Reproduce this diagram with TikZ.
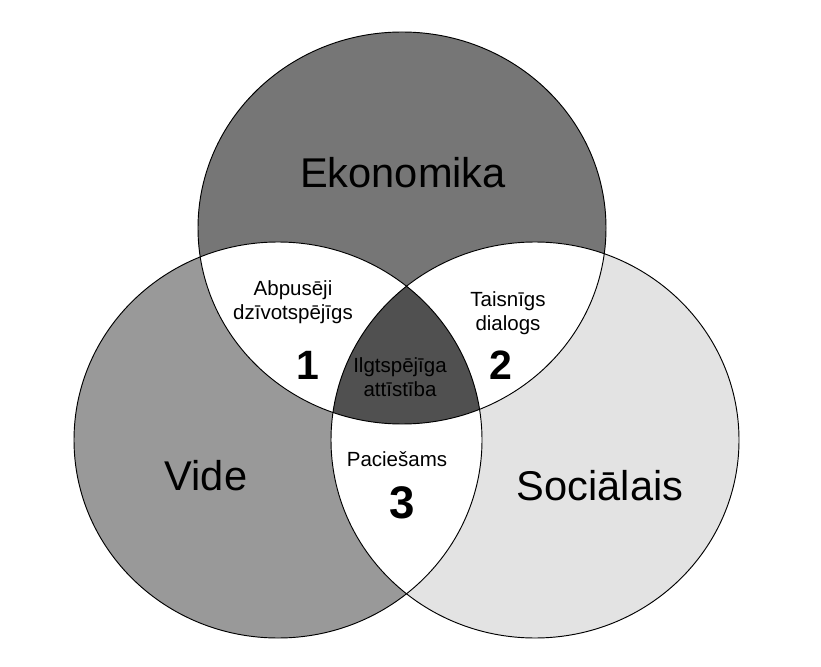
\documentclass[tikz,border=0pt]{standalone}
\usepackage{fontspec}
\setmainfont{Liberation Sans}
\usepackage{xcolor}
\definecolor{eko-gray}{RGB}{118,118,118}
\definecolor{vide-gray}{RGB}{153,153,153}
\definecolor{soc-gray}{RGB}{227,227,227}
\definecolor{core-gray}{RGB}{80,80,80}

\def\ekoset{(402,438) ellipse [x radius=204, y radius=196]}
\def\videset{(278,226) ellipse [x radius=204, y radius=198]}
\def\socset{(535,226) ellipse [x radius=204, y radius=198]}

\begin{document}
\begin{tikzpicture}[x=0.03cm, y=0.03cm,
  big/.style={font=\fontsize{35.5}{40}\selectfont, anchor=base},
  small/.style={font=\fontsize{17.5}{20.8}\selectfont, align=center},
  num/.style={font=\fontsize{35}{40}\selectfont\bfseries},
  rim/.style={draw=black, line width=0.8pt},
]
  \fill[white] (0,0) rectangle (821,666);
  \useasboundingbox (0,0) rectangle (821,666);

  % Three sets
  \fill[eko-gray] \ekoset;
  \fill[vide-gray] \videset;
  \fill[soc-gray] \socset;

  % Pairwise overlaps
  \begin{scope}
    \clip \ekoset;
    \fill[white] \videset;
    \fill[white] \socset;
  \end{scope}
  \begin{scope}
    \clip \videset;
    \fill[white] \socset;
  \end{scope}

  % Common core
  \begin{scope}
    \clip \ekoset;
    \clip \videset;
    \fill[core-gray] \socset;
  \end{scope}

  % Outlines
  \draw[rim] \ekoset;
  \draw[rim] \videset;
  \draw[rim] \socset;

  % Set names
  \node[big] (eko) at (403,478) {Ekonomika};
  \node[big] (vide) at (206,176) {Vide};
  \node[big] (soc) at (600,166) {Sociālais};

  % Overlaps
  \node[small] (abp) at (293,364) {Abpusēji\\dzīvotspējīgs};
  \node[small] (tais) at (508,353) {Taisnīgs\\dialogs};
  \node[small] (pac) at (397,207) {Paciešams};
  \node[small] (ilgt) at (400,289) {Ilgtspējīga\\attīstība};

  % Numbers
  \node[num] (one) at (308,301) {1};
  \node[num] (two) at (501,301) {2};
  \node[num, font=\fontsize{39}{44}\selectfont\bfseries] (three) at (402,163) {3};
\end{tikzpicture}
\end{document}
